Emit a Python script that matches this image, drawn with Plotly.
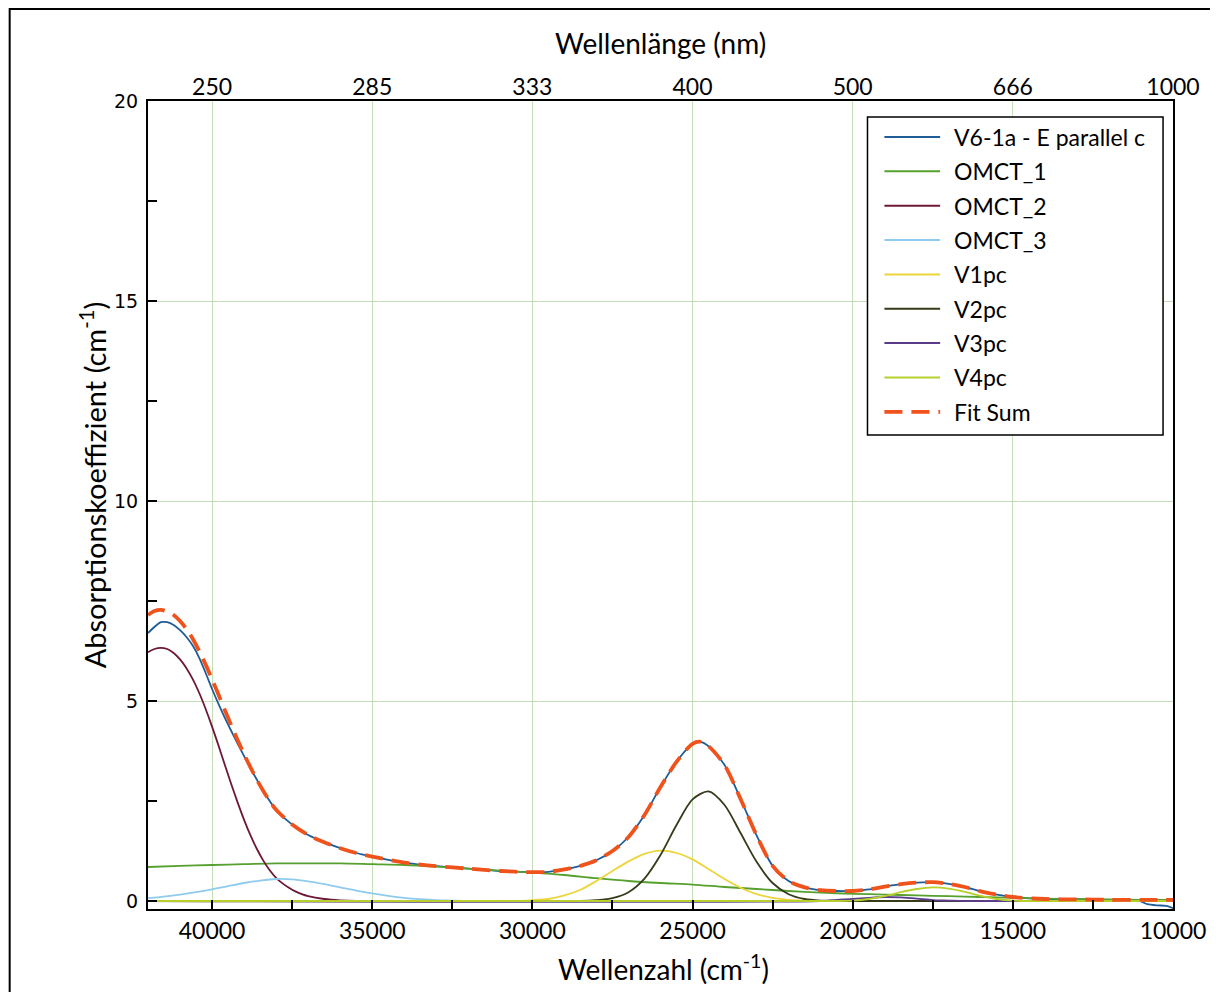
import plotly.graph_objects as go

# ---------------- data ----------------
wn_fit = [42000, 41800, 41600, 41400, 41200, 41000, 40800, 40600, 40400, 40200,
          40000, 39800, 39600, 39400, 39200, 39000, 38800, 38600, 38400, 38200,
          38000, 37500, 37000, 36500, 36000, 35500, 35000, 34000, 33000, 32000,
          31000, 30000, 29500, 29000, 28500, 28000, 27500, 27000, 26500, 26000,
          25500, 25000, 24750, 24500, 24000, 23500, 23000, 22500, 22000, 21500,
          21000, 20500, 20000, 19500, 19000, 18500, 18000, 17500, 17000, 16500,
          16000, 15500, 15000, 14000, 13000, 12000, 11000, 10500, 10000]

fit_sum = [7.15, 7.25, 7.28, 7.24, 7.15, 7.00, 6.80, 6.55, 6.25, 5.91,
           5.54, 5.16, 4.77, 4.39, 4.02, 3.67, 3.34, 3.03, 2.75, 2.50,
           2.28, 1.91, 1.65, 1.47, 1.32, 1.20, 1.11, 0.96, 0.87, 0.81,
           0.75, 0.72, 0.73, 0.79, 0.88, 1.02, 1.25, 1.60, 2.15, 2.85,
           3.48, 3.93, 3.98, 3.87, 3.40, 2.55, 1.64, 0.88, 0.50, 0.34,
           0.27, 0.25, 0.25, 0.29, 0.36, 0.42, 0.46, 0.47, 0.43, 0.35,
           0.24, 0.16, 0.10, 0.05, 0.04, 0.03, 0.03, 0.03, 0.03]

wn_data = [42000, 41800, 41600, 41400, 41200, 41000, 40800, 40600, 40400, 40200,
           40000, 39800, 39600, 39400, 39200, 39000, 38800, 38600, 38400, 38200,
           38000, 37500, 37000, 36500, 36000, 35500, 35000, 34000, 33000, 32000,
           31000, 30000, 29500, 29000, 28500, 28000, 27500, 27000, 26500, 26000,
           25500, 25000, 24750, 24500, 24000, 23500, 23000, 22500, 22000, 21500,
           21000, 20500, 20000, 19500, 19000, 18500, 18000, 17500, 17000, 16500,
           16000, 15500, 15000, 14000, 13000, 12000, 11200, 11000, 10800, 10500,
           10200, 10000]

measured = [6.70, 6.85, 6.97, 6.97, 6.90, 6.77, 6.60, 6.38, 6.08, 5.70,
            5.30, 4.93, 4.58, 4.25, 3.93, 3.62, 3.32, 3.03, 2.75, 2.50,
            2.28, 1.91, 1.65, 1.47, 1.32, 1.20, 1.11, 0.96, 0.87, 0.81,
            0.75, 0.72, 0.73, 0.79, 0.88, 1.02, 1.25, 1.60, 2.15, 2.85,
            3.48, 3.93, 3.98, 3.87, 3.40, 2.55, 1.64, 0.88, 0.50, 0.34,
            0.27, 0.25, 0.25, 0.29, 0.36, 0.42, 0.46, 0.47, 0.43, 0.35,
            0.24, 0.16, 0.10, 0.05, 0.04, 0.03, 0.02, -0.01, -0.08, -0.11,
            -0.12, -0.18]

wn_omct1 = [42000, 41000, 40000, 39000, 38000, 37000, 36000, 35000, 34000, 33000,
            32000, 31000, 30000, 29000, 28000, 27000, 26000, 25000, 24000, 23000,
            22000, 21000, 20000, 19000, 18000, 17000, 16000, 15000, 14000, 13000,
            12000, 11000, 10000]
omct1 = [0.85, 0.88, 0.90, 0.92, 0.94, 0.94, 0.94, 0.92, 0.90, 0.86,
         0.81, 0.76, 0.71, 0.65, 0.57, 0.50, 0.45, 0.41, 0.35, 0.30,
         0.25, 0.21, 0.18, 0.16, 0.14, 0.12, 0.10, 0.08, 0.06, 0.05,
         0.04, 0.03, 0.03]

wn_omct2 = [42000, 41800, 41600, 41400, 41200, 41000, 40800, 40600, 40400, 40200,
            40000, 39800, 39600, 39400, 39200, 39000, 38800, 38600, 38400, 38200,
            38000, 37800, 37600, 37400, 37200, 37000, 36500, 36000, 35500, 35000,
            10000]
omct2 = [6.22, 6.30, 6.33, 6.30, 6.20, 6.04, 5.82, 5.54, 5.20, 4.80,
         4.36, 3.89, 3.40, 2.92, 2.46, 2.03, 1.64, 1.30, 1.01, 0.77,
         0.58, 0.44, 0.33, 0.24, 0.17, 0.12, 0.05, 0.015, 0.0, 0.0,
         0.0]

wn_omct3 = [42000, 41500, 41000, 40500, 40000, 39500, 39000, 38500, 38000, 37500,
            37000, 36500, 36000, 35500, 35000, 34500, 34000, 33500, 33000, 32500,
            32000, 10000]
omct3 = [0.07, 0.11, 0.16, 0.22, 0.29, 0.37, 0.45, 0.51, 0.55, 0.54,
         0.49, 0.42, 0.34, 0.26, 0.19, 0.13, 0.08, 0.045, 0.02, 0.01,
         0.0, 0.0]

wn_v1 = [42000, 30500, 30000, 29500, 29000, 28500, 28000, 27500, 27000, 26500,
         26000, 25500, 25000, 24500, 24000, 23500, 23000, 22500, 22000, 21500,
         21000, 10000]
v1pc = [0, 0, 0.02, 0.05, 0.14, 0.28, 0.50, 0.75, 0.99, 1.18,
        1.26, 1.20, 1.04, 0.80, 0.55, 0.33, 0.17, 0.08, 0.03, 0.01,
        0, 0]

wn_v2 = [42000, 28500, 28000, 27500, 27000, 26500, 26000, 25500, 25000, 24500,
         24000, 23500, 23000, 22500, 22000, 21500, 21000, 20500, 10000]
v2pc = [0, 0, 0.02, 0.07, 0.22, 0.56, 1.15, 1.90, 2.54, 2.74,
        2.40, 1.70, 0.98, 0.45, 0.17, 0.05, 0.01, 0, 0]

wn_v3 = [42000, 21000, 20500, 20000, 19500, 19000, 18500, 18000, 17500, 17000,
         16500, 10000]
v3pc = [0, 0, 0.03, 0.05, 0.08, 0.10, 0.09, 0.06, 0.02, 0.01, 0, 0]

wn_v4 = [42000, 20500, 20000, 19500, 19000, 18500, 18000, 17500, 17000, 16500,
         16000, 15500, 15000, 14500, 10000]
v4pc = [0, 0, 0.01, 0.05, 0.12, 0.22, 0.30, 0.34, 0.31, 0.23,
        0.13, 0.05, 0.01, 0, 0]

wl_tickvals = [40000, 35000, 30000, 25000, 20000, 15000, 10000]
wl_ticktext = ["250", "285", "333", "400", "500", "666", "1000"]

# ---------------- figure ----------------
FONT = "Lato"
GRID = "#c4dfb8"
FIT_DASH = "18px,9px"

series = [
    ("V6-1a - E parallel c", wn_data, measured, "#1f5d96", 1.8, "solid"),
    ("OMCT_1", wn_omct1, omct1, "#55a02e", 1.8, "solid"),
    ("OMCT_2", wn_omct2, omct2, "#6e1838", 1.8, "solid"),
    ("OMCT_3", wn_omct3, omct3, "#8fcbee", 1.8, "solid"),
    ("V1pc", wn_v1, v1pc, "#ecd53a", 1.8, "solid"),
    ("V2pc", wn_v2, v2pc, "#363b1a", 1.8, "solid"),
    ("V3pc", wn_v3, v3pc, "#5a3c8a", 1.8, "solid"),
    ("V4pc", wn_v4, v4pc, "#b7cf2c", 1.8, "solid"),
    ("Fit Sum", wn_fit, fit_sum, "#f0521c", 3.8, FIT_DASH),
]

fig = go.Figure()
for name, xs, ys, col, w, dash in series:
    fig.add_trace(go.Scatter(
        x=xs, y=ys, name=name, mode="lines", showlegend=False,
        line=dict(color=col, width=w, dash=dash, shape="spline", smoothing=0.8),
    ))

# invisible trace on the top (wavelength) axis so it is drawn
fig.add_trace(go.Scatter(x=[40000], y=[None], xaxis="x2", showlegend=False,
                         hoverinfo="skip", mode="lines"))

# plot area: 1030 x 808 px
PW, PH = 1030.0, 808.0
ML, MR, MT, MB = 140, 40, 93, 83


def px_x(px):  # screen x (page) -> paper
    return (px - 148) / PW


def px_y(py):  # screen y (page) -> paper
    return (909 - py) / PH


shapes = []
annotations = []

# legend drawn as a boxed key (long line samples as in the reference)
shapes.append(dict(type="rect", xref="paper", yref="paper",
                   x0=px_x(871), x1=px_x(1168), y0=px_y(435), y1=px_y(117),
                   line=dict(color="black", width=1.5), fillcolor="white", layer="above"))
for i, (name, xs, ys, col, w, dash) in enumerate(series):
    ry = px_y(137 + 34.35 * i)
    shapes.append(dict(type="line", xref="paper", yref="paper",
                       x0=px_x(888), x1=px_x(944), y0=ry, y1=ry,
                       line=dict(color=col, width=2.0 if dash == "solid" else 3.8,
                                 dash=dash), layer="above"))
    annotations.append(dict(text=name, xref="paper", yref="paper",
                            x=px_x(956), y=ry, xanchor="left", yanchor="middle",
                            showarrow=False, font=dict(family=FONT, size=23, color="black")))

# axis titles
annotations.append(dict(text="Wellenzahl (cm<sup>-1</sup>)", xref="paper", yref="paper",
                        x=px_x(666), y=px_y(967), xanchor="center", yanchor="middle",
                        showarrow=False, font=dict(family=FONT, size=28, color="black")))
annotations.append(dict(text="Wellenlänge (nm)", xref="paper", yref="paper",
                        x=px_x(663), y=px_y(43), xanchor="center", yanchor="middle",
                        showarrow=False, font=dict(family=FONT, size=28, color="black")))
annotations.append(dict(text="Absorptionskoeffizient (cm<sup>-1</sup>)", xref="paper", yref="paper",
                        x=px_x(93), y=px_y(485), textangle=-90, xanchor="center",
                        yanchor="middle", showarrow=False,
                        font=dict(family=FONT, size=29, color="black")))

# outer frame around the whole figure
shapes.append(dict(type="rect", xref="paper", yref="paper",
                   x0=-(ML - 1) / PW, x1=1.2, y0=-0.25, y1=1 + (MT - 1) / PH,
                   line=dict(color="black", width=2), fillcolor="rgba(0,0,0,0)"))

fig.update_layout(
    width=1210, height=984,
    margin=dict(l=ML, r=MR, t=MT, b=MB),
    paper_bgcolor="white", plot_bgcolor="white",
    font=dict(family=FONT, color="black", size=20),
    showlegend=False,
    xaxis=dict(
        range=[42000, 10000], dtick=5000, tick0=0, tickformat="d",
        ticks="inside", ticklen=9, tickwidth=1.5, tickcolor="black",
        minor=dict(dtick=2500, ticks="inside", ticklen=9, tickwidth=1.5,
                   tickcolor="black", showgrid=False),
        showline=True, linecolor="black", linewidth=2, mirror=True,
        showgrid=True, gridcolor=GRID, gridwidth=1, zeroline=False,
        tickfont=dict(family=FONT, size=23, color="black"),
        ticklabelstandoff=0,
    ),
    xaxis2=dict(
        overlaying="x", side="top", anchor="y",
        range=[42000, 10000], tickmode="array",
        tickvals=wl_tickvals, ticktext=wl_ticktext,
        ticks="", showgrid=False, showline=False, zeroline=False,
        tickfont=dict(family=FONT, size=23, color="black"),
        ticklabelstandoff=0,
    ),
    yaxis=dict(
        range=[-0.2, 20], dtick=5, tick0=0,
        ticks="inside", ticklen=9, tickwidth=1.5, tickcolor="black",
        minor=dict(dtick=2.5, ticks="inside", ticklen=9, tickwidth=1.5,
                   tickcolor="black", showgrid=False),
        showline=True, linecolor="black", linewidth=2, mirror=True,
        showgrid=True, gridcolor=GRID, gridwidth=1, zeroline=False,
        tickfont=dict(family="DejaVu Sans", size=19, color="black"),
        ticklabelstandoff=4,
    ),
    annotations=annotations,
    shapes=shapes,
)

fig.write_html("out.html")
